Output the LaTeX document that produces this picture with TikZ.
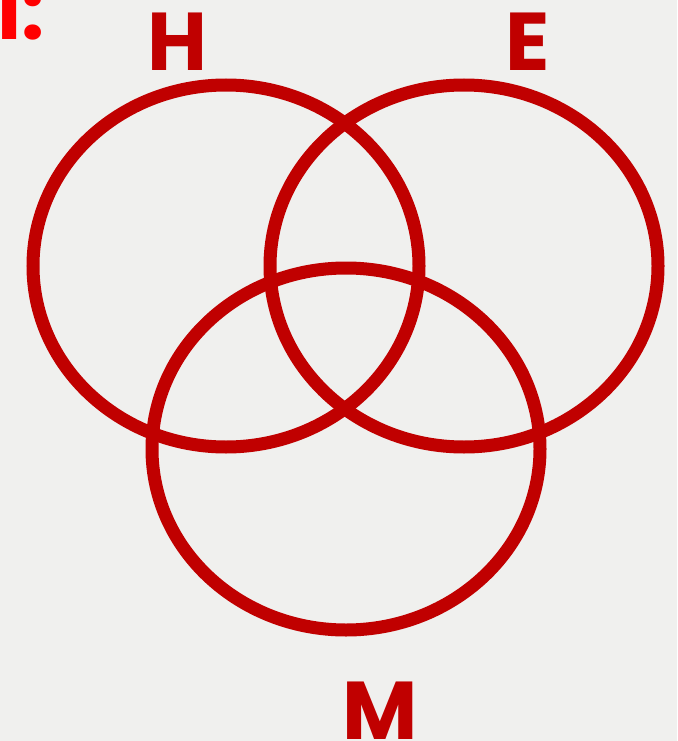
\documentclass[tikz,border=0pt]{standalone}
\usepackage{fontspec}
\setmainfont{Poppins}
\definecolor{bg}{HTML}{F0F0EE}
\definecolor{dred}{HTML}{C00000}
\definecolor{bred}{HTML}{FF0000}
\begin{document}
\begin{tikzpicture}[x=1pt,y=-1pt,
  ring/.style={draw=dred,line width=13pt},
  lbl/.style={text=dred,font=\fontsize{82}{82}\selectfont\bfseries,inner sep=0pt,anchor=base}]
\fill[bg] (0,0) rectangle (677,741);
\useasboundingbox (0,0) rectangle (677,741);
\draw[ring] (226,266) ellipse [x radius=193, y radius=181];
\draw[ring] (464,266) ellipse [x radius=194, y radius=181];
\draw[ring] (346,449) ellipse [x radius=194, y radius=181];
\node[lbl] (h) at (177,71) {H};
\node[lbl] (e) at (528,71) {E};
\node[lbl] (m) at (380,739) {M};
\node[lbl,text=bred,anchor=base west] (i) at (-3,40) {I:};
\end{tikzpicture}
\end{document}
